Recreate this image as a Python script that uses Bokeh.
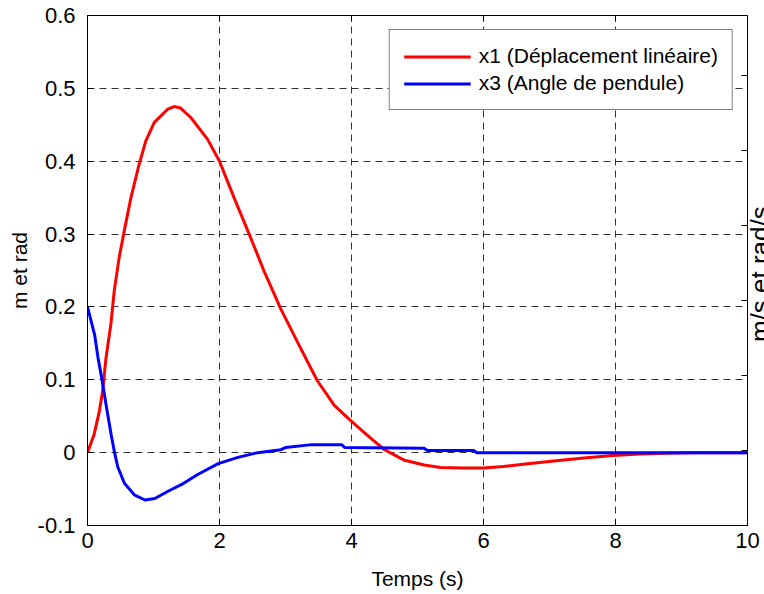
import math
from bokeh.plotting import figure
from bokeh.models import Range1d, FixedTicker, Legend, LegendItem, Label
from bokeh.embed import file_html
from bokeh.resources import INLINE

# ---- data ----
t_x1 = [0, 0.10, 0.18, 0.23, 0.28, 0.355, 0.405, 0.48, 0.556, 0.658, 0.783, 0.884,
        1.01, 1.21, 1.31, 1.41, 1.565, 1.82, 2.0, 2.22, 2.45, 2.68, 2.93, 3.18,
        3.48, 3.74, 4.0, 4.29, 4.5, 4.79, 5.1, 5.35, 5.7, 6.0, 6.3, 6.6, 7.1,
        7.56, 7.96, 8.37, 8.77, 9.2, 10]
x1 = [0, 0.025, 0.057, 0.085, 0.13, 0.177, 0.222, 0.268, 0.304, 0.35, 0.396, 0.428,
      0.453, 0.471, 0.475, 0.473, 0.46, 0.43, 0.40, 0.35, 0.30, 0.248, 0.197, 0.152,
      0.099, 0.065, 0.043, 0.02, 0.004, -0.01, -0.017, -0.0205, -0.021, -0.021, -0.019, -0.016, -0.011,
      -0.007, -0.004, -0.002, -0.001, 0, 0]

t_x3 = [0, 0.11, 0.16, 0.22, 0.29, 0.36, 0.41, 0.46, 0.56, 0.71, 0.87, 1.02, 1.22,
        1.42, 1.67, 1.98, 2.28, 2.58, 2.93, 3.0, 3.4, 3.85, 3.9, 5.1, 5.15, 5.85, 5.9, 10]
x3 = [0.2, 0.161, 0.13, 0.1, 0.061, 0.024, 0.0, -0.02, -0.042, -0.058, -0.065, -0.063, -0.053,
      -0.044, -0.03, -0.015, -0.0065, 0.0, 0.004, 0.007, 0.011, 0.011, 0.007, 0.006, 0.003, 0.003, 0.0, 0.0]

x_ticks = [0, 2, 4, 6, 8, 10]
x_tick_labels = ["0", "2", "4", "6", "8", "10"]
y_ticks = [-0.1, 0, 0.1, 0.2, 0.3, 0.4, 0.5, 0.6]
y_tick_labels = ["-0.1", "0", "0.1", "0.2", "0.3", "0.4", "0.5", "0.6"]
right_ticks = [-1, 0, 1, 2, 3, 4, 5]

series_names = ["x1 (Déplacement linéaire)", "x3 (Angle de pendule)"]
x_label = "Temps (s)"
y_label = "m et rad"
y2_label = "m/s et rad/s"

FONT = "Liberation Sans"

p = figure(width=777, height=594, x_range=Range1d(0, 10), y_range=Range1d(-0.1, 0.6),
           output_backend="svg", toolbar_location=None,
           min_border_left=87, min_border_right=16, min_border_top=15, min_border_bottom=69)
p.outline_line_color = "black"
p.outline_line_width = 1
p.background_fill_color = "white"
p.border_fill_color = "white"

r1 = p.line(t_x1, x1, line_color="#ff0000", line_width=3)
r3 = p.line(t_x3, x3, line_color="#0000ff", line_width=3)


def style_axis(ax):
    ax.axis_line_color = "black"
    ax.axis_line_width = 1
    ax.major_tick_line_color = "black"
    ax.major_tick_in = 6
    ax.major_tick_out = 0
    ax.minor_tick_line_color = None
    ax.major_label_text_font = FONT
    ax.major_label_text_font_size = "22px"
    ax.major_label_text_color = "black"
    ax.axis_label_text_font = FONT
    ax.axis_label_text_font_size = "21px"
    ax.axis_label_text_font_style = "normal"
    ax.axis_label_text_color = "black"


xb = p.xaxis[0]
xb.ticker = FixedTicker(ticks=x_ticks)
xb.major_label_overrides = dict(zip(x_ticks, x_tick_labels))
style_axis(xb)
xb.major_label_standoff = 7
xb.axis_label = x_label
xb.axis_label_standoff = 16

yl = p.yaxis[0]
yl.ticker = FixedTicker(ticks=y_ticks)
yl.major_label_overrides = dict(zip(y_ticks, y_tick_labels))
style_axis(yl)
yl.major_label_standoff = 12
yl.axis_label = y_label
yl.axis_label_standoff = 4

# inward ticks on the top edge and on the (second) right axis
p.extra_y_ranges = {"right": Range1d(-1, 5.8)}
p.scatter(x_ticks, [0.6] * len(x_ticks), marker="dash", size=12, angle=math.pi / 2,
          line_color="black", line_width=1)
p.scatter([10] * len(right_ticks), right_ticks, marker="dash", size=12,
          line_color="black", line_width=1, y_range_name="right")

p.xgrid.ticker = FixedTicker(ticks=x_ticks)
p.ygrid.ticker = FixedTicker(ticks=y_ticks)
p.grid.grid_line_color = "#333333"
p.grid.grid_line_width = 1
p.grid.grid_line_dash = "7 5"

legend = Legend(items=[LegendItem(label=series_names[0], renderers=[r1]),
                       LegendItem(label=series_names[1], renderers=[r3])],
                location="top_right")
legend.border_line_color = "black"
legend.border_line_width = 1
legend.background_fill_color = "white"
legend.background_fill_alpha = 1
legend.label_text_font = FONT
legend.label_text_font_size = "21px"
legend.label_text_color = "black"
legend.glyph_width = 67
legend.glyph_height = 23
legend.label_height = 23
legend.label_standoff = 8
legend.padding = 14
legend.spacing = 3
legend.margin = 14
p.add_layout(legend)

# second-axis label, partly outside the page as in the reference
lab = Label(x=10, y=0.245, x_offset=-3, text=y2_label, angle=math.pi / 2,
            text_align="center", text_baseline="top",
            text_font=FONT, text_font_size="26px", text_color="black")
p.add_layout(lab, "right")

open("out.html", "w").write(file_html(p, INLINE))
